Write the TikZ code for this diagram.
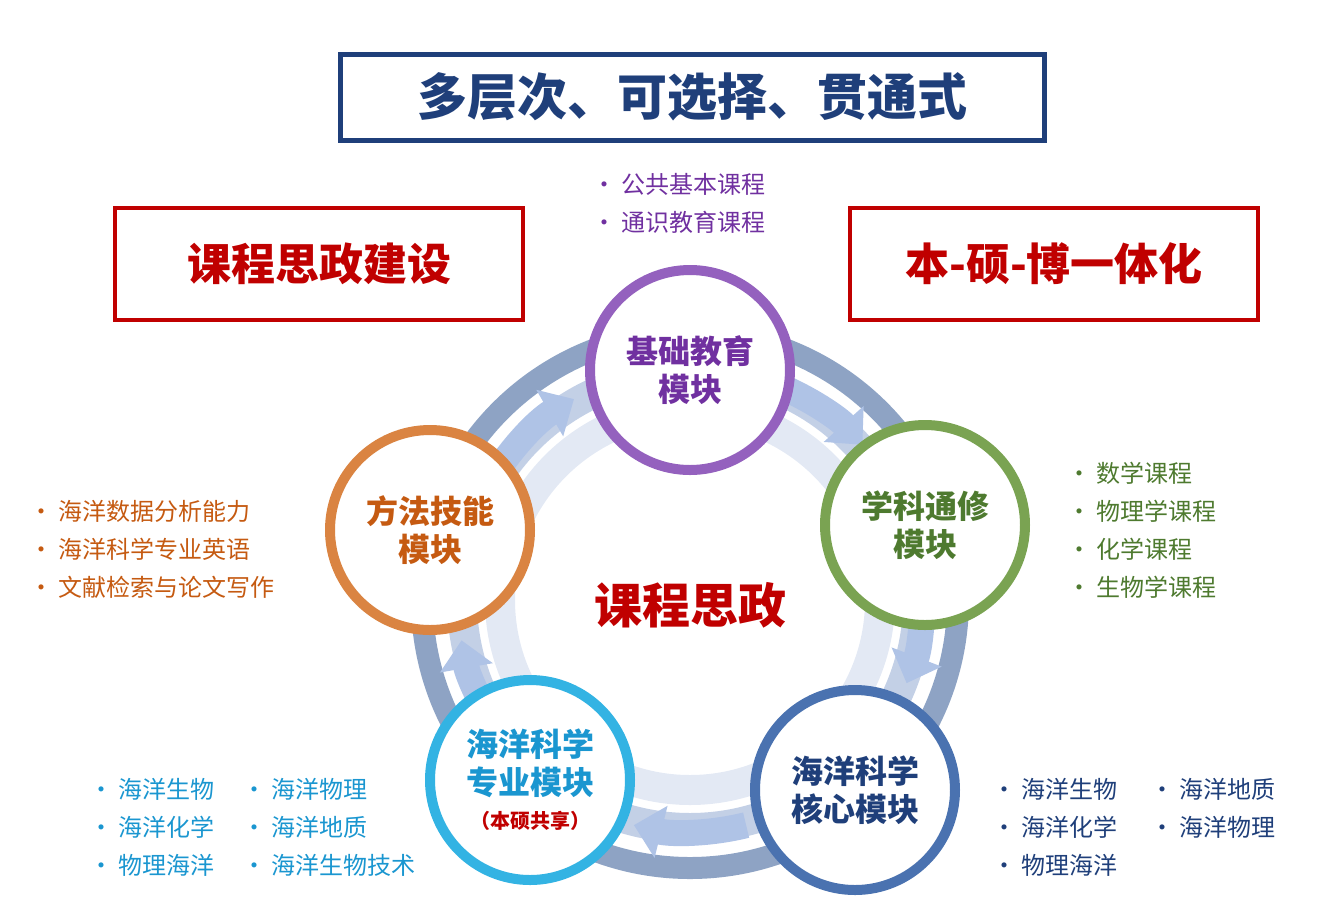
\documentclass[tikz,border=0pt]{standalone}
\usepackage{fontspec}
\setmainfont{Noto Sans CJK SC}
\usetikzlibrary{arrows.meta}
\definecolor{navy}{HTML}{1F3F7A}
\definecolor{dred}{HTML}{C00000}
\definecolor{ring1}{HTML}{8EA3C4}
\definecolor{ring2}{HTML}{C3D0E6}
\definecolor{ring3}{HTML}{E3E9F4}
\definecolor{arr}{HTML}{AFC3E6}
\definecolor{cpur}{HTML}{9461BE}\definecolor{tpur}{HTML}{7030A0}
\definecolor{cgrn}{HTML}{7AA352}\definecolor{tgrn}{HTML}{4E7A2F}
\definecolor{cblu}{HTML}{4A72B0}\definecolor{tblu}{HTML}{1F3F7A}
\definecolor{ccya}{HTML}{33B3E3}\definecolor{tcya}{HTML}{1A96D0}
\definecolor{cora}{HTML}{DA8442}\definecolor{tora}{HTML}{C55A11}
\tikzset{
 modc/.style={circle,draw=#1,line width=5pt,fill=white,minimum size=100pt,inner sep=0pt,font=\bfseries\fontsize{16}{19}\selectfont,align=center},
 lst/.style={anchor=west,font=\fontsize{12}{19}\selectfont,align=left},
 ar/.style={draw=arr,line width=13pt,-{Triangle[width=26pt,length=14pt]}},
 hbox/.style={draw=#1,line width=2pt,minimum width=204pt,minimum height=56pt,font=\bfseries\fontsize{22}{26}\selectfont,text=#1}
}
\begin{document}
\begin{tikzpicture}[x=0.5pt,y=-0.5pt]
\useasboundingbox (0,0) rectangle (1340,918);
\node[draw=navy,line width=2.5pt,minimum width=352pt,minimum height=43pt,font=\bfseries\fontsize{25}{28}\selectfont,text=navy] (title) at (692,97) {多层次、可选择、贯通式};
\node[hbox=dred] (lb) at (319,264) {课程思政建设};
\node[hbox=dred] (rb) at (1054,264) {本-硕-博一体化};
\coordinate (c) at (690,600);
\draw[ring1,line width=11pt] (c) circle[radius=268];
\draw[ring2,line width=15pt] (c) circle[radius=228];
\draw[ring3,line width=15pt] (c) circle[radius=190];
\draw[ar] ([shift={(-68:232)}]c) arc[start angle=-68,end angle=-42,radius=232];
\draw[ar] ([shift={(-6:232)}]c) arc[start angle=-6,end angle=21,radius=232];
\draw[ar] ([shift={(76:232)}]c) arc[start angle=76,end angle=104,radius=232];
\draw[ar] ([shift={(144:232)}]c) arc[start angle=144,end angle=170,radius=232];
\draw[ar] ([shift={(210:232)}]c) arc[start angle=210,end angle=240,radius=232];
\node[modc=cpur,text=tpur] (m1) at (690,370) {基础教育\\模块};
\node[modc=cgrn,text=tgrn] (m2) at (925,525) {学科通修\\模块};
\node[modc=cblu,text=tblu] (m3) at (855,790) {海洋科学\\核心模块};
\node[modc=ccya,text=tcya] (m4) at (530,780) {海洋科学\\专业模块\\[-2pt]{\color{dred}\fontsize{10}{12}\selectfont（本硕共享）}};
\node[modc=cora,text=tora] (m5) at (430,530) {方法技能\\模块};
\node[font=\bfseries\fontsize{24}{28}\selectfont,text=dred] (ct) at (690,605) {课程思政};
\node[lst,text=tpur] (l1) at (585,203) {• 公共基本课程\\• 通识教育课程};
\node[lst,text=tgrn] (l2) at (1060,530) {• 数学课程\\• 物理学课程\\• 化学课程\\• 生物学课程};
\node[lst,text=tora] (l5) at (22,549) {• 海洋数据分析能力\\• 海洋科学专业英语\\• 文献检索与论文写作};
\node[lst,text=tblu] (l3a) at (985,827) {• 海洋生物\\• 海洋化学\\• 物理海洋};
\node[lst,text=tblu] (l3b) at (1143,808) {• 海洋地质\\• 海洋物理};
\node[lst,text=tcya] (l4a) at (82,827) {• 海洋生物\\• 海洋化学\\• 物理海洋};
\node[lst,text=tcya] (l4b) at (235,827) {• 海洋物理\\• 海洋地质\\• 海洋生物技术};
\end{tikzpicture}
\end{document}
